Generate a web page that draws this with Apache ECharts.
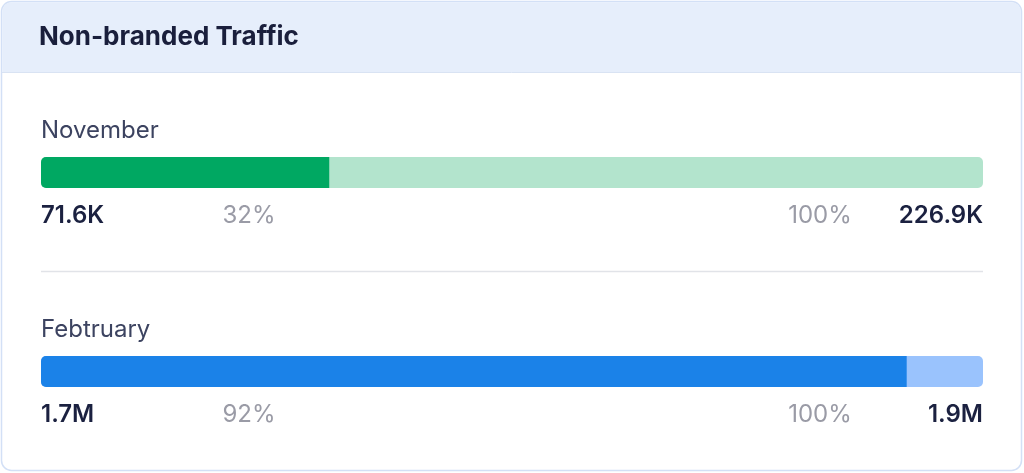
<!DOCTYPE html>
<html>
<head>
<meta charset="utf-8">
<script src="https://cdn.jsdelivr.net/npm/echarts@6/dist/echarts.min.js"></script>
<style>
  html, body { margin: 0; padding: 0; background: #ffffff; }
  #chart { width: 1024px; height: 473px; }
</style>
</head>
<body>
<div id="chart"></div>
<script>
const months = ['November', 'Febtruary'];
// filled share of each bar, in % of the full bar, as drawn
const fillShare = [30.6, 91.9];
const fullShare = [100, 100];
const valueLabels = ['71.6K', '1.7M'];
const pctLabels = ['32%', '92%'];
const fullPctLabel = '100%';
const totalLabels = ['226.9K', '1.9M'];

const fillColors = ['#00a862', '#1b82e8'];
const restColors = ['#b3e4cd', '#9ac3fd'];
const FONT = 'Inter, "Open Sans", sans-serif';

const barTops = [157, 356];
const barH = 31;

const grids = [], xAxes = [], yAxes = [], series = [];
const texts = [];

months.forEach(function (m, i) {
  grids.push({ left: 41, right: 41, top: barTops[i], height: barH });
  xAxes.push({ gridIndex: i, type: 'value', min: 0, max: 100, show: false });
  yAxes.push({ gridIndex: i, type: 'category', data: [m], show: false });
  series.push({
    type: 'bar', xAxisIndex: i, yAxisIndex: i, barWidth: barH, barGap: '-100%',
    silent: true, data: [fullShare[i]],
    itemStyle: { color: restColors[i], borderRadius: 5 }
  });
  series.push({
    type: 'bar', xAxisIndex: i, yAxisIndex: i, barWidth: barH, barGap: '-100%',
    silent: true, data: [fillShare[i]],
    itemStyle: { color: fillColors[i], borderRadius: [5, 0, 0, 5] }
  });

  const labelY = barTops[i] + 58.5;
  texts.push(
    { type: 'text', x: 41, y: barTops[i] - 26.5, style: { text: m, font: '400 24px ' + FONT, fill: '#3c4360', verticalAlign: 'middle' } },
    { type: 'text', x: 41, y: labelY, style: { text: valueLabels[i], font: '600 24px ' + FONT, fill: '#1b2140', verticalAlign: 'middle' } },
    { type: 'text', x: 249, y: labelY, style: { text: pctLabels[i], font: '400 24px ' + FONT, fill: '#9a9ba6', align: 'center', verticalAlign: 'middle' } },
    { type: 'text', x: 820, y: labelY, style: { text: fullPctLabel, font: '400 24px ' + FONT, fill: '#9a9ba6', align: 'center', verticalAlign: 'middle' } },
    { type: 'text', x: 983, y: labelY, style: { text: totalLabels[i], font: '600 24px ' + FONT, fill: '#1b2140', align: 'right', verticalAlign: 'middle' } }
  );
});

const chart = echarts.init(document.getElementById('chart'));
chart.setOption({
  animation: false,
  grid: grids,
  xAxis: xAxes,
  yAxis: yAxes,
  series: series,
  graphic: [
    // card
    { type: 'rect', z: -10, shape: { x: 1.5, y: 1.5, width: 1020, height: 469, r: 10 },
      style: { fill: '#ffffff', stroke: '#d3e0f6', lineWidth: 1.5 } },
    // header band
    { type: 'rect', z: -9, shape: { x: 2.25, y: 2.25, width: 1018.5, height: 70, r: [9, 9, 0, 0] },
      style: { fill: '#e6eefb' } },
    { type: 'line', z: -8, shape: { x1: 2, y1: 72.5, x2: 1021, y2: 72.5 }, style: { stroke: '#d9e3f3', lineWidth: 1 } },
    { type: 'text', x: 39, y: 37, style: { text: 'Non-branded Traffic', font: '700 26px ' + FONT, fill: '#1a1f3c', verticalAlign: 'middle' } },
    // divider
    { type: 'line', shape: { x1: 41, y1: 271.5, x2: 983, y2: 271.5 }, style: { stroke: '#e1e3e8', lineWidth: 1.5 } }
  ].concat(texts)
});
</script>
</body>
</html>
